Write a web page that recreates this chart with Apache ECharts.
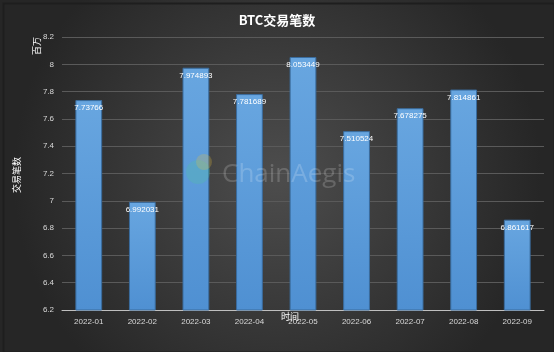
<!DOCTYPE html>
<html><head><meta charset="utf-8">
<script src="https://cdn.jsdelivr.net/npm/echarts@6/dist/echarts.min.js"></script>
<style>html,body{margin:0;padding:0;background:#333;}#c{width:554px;height:352px;}</style>
</head><body><div id="c"></div>
<script>
const categories = ['2022-01','2022-02','2022-03','2022-04','2022-05','2022-06','2022-07','2022-08','2022-09'];
const values = [7.73766, 6.992031, 7.974893, 7.781689, 8.053449, 7.510524, 7.678275, 7.814861, 6.861617];
const yTicks = [6.2, 6.4, 6.6, 6.8, 7, 7.2, 7.4, 7.6, 7.8, 8, 8.2];

const chart = echarts.init(document.getElementById('c'));
chart.setOption({
  backgroundColor: {
    type: 'radial', x: 0.5, y: 0.5, r: 0.75,
    colorStops: [{offset: 0, color: '#4d4d4d'}, {offset: 1, color: '#262626'}]
  },
  title: {
    text: 'BTC交易笔数', left: 'center', top: 9,
    textStyle: {color: '#ffffff', fontSize: 13, fontWeight: 'bold', fontFamily: 'Noto Sans CJK SC'}
  },
  graphic: [
    {type: 'rect', left: 1, top: 1, shape: {width: 551, height: 349}, style: {fill: 'none', stroke: '#1e1e1e', lineWidth: 2}, silent: true},
    {type: 'text', left: 222, top: 162, style: {text: 'ChainAegis', fill: 'rgba(255,255,255,0.18)', font: '26px "Open Sans"'}, z: 10, silent: true},
    {type: 'circle', left: 186, top: 160, shape: {r: 12}, style: {fill: 'rgba(80,200,150,0.25)'}, z: 10, silent: true},
    {type: 'circle', left: 196, top: 154, shape: {r: 8}, style: {fill: 'rgba(230,190,60,0.25)'}, z: 10, silent: true},
    {type: 'text', x: 17, y: 175, rotation: Math.PI / 2, style: {text: '交易笔数', fill: '#ffffff', font: '9px "Noto Sans CJK SC"', textAlign: 'center', textVerticalAlign: 'middle'}, silent: true},
    {type: 'text', x: 37, y: 46, rotation: Math.PI / 2, style: {text: '百万', fill: '#ffffff', font: '9px "Noto Sans CJK SC"', textAlign: 'center', textVerticalAlign: 'middle'}, silent: true},
    {type: 'text', x: 290, y: 317, z: 20, style: {text: '时间', fill: '#ffffff', font: '9px "Noto Sans CJK SC"', textAlign: 'center', textVerticalAlign: 'middle'}, silent: true}
  ],
  grid: {left: 62, right: 10, top: 37, bottom: 42},
  xAxis: {
    type: 'category', data: categories,
    axisLine: {lineStyle: {color: '#bfbfbf', width: 1}},
    axisTick: {show: false},
    axisLabel: {color: '#d9d9d9', fontSize: 8, margin: 8, fontFamily: 'Liberation Sans'}
  },
  yAxis: {
    type: 'value', min: 6.2, max: 8.2, interval: 0.2,
    axisLine: {show: false}, axisTick: {show: false},
    axisLabel: {color: '#d9d9d9', fontSize: 8, margin: 8, fontFamily: 'Liberation Sans',
      formatter: v => String(Math.round(v * 10) / 10)},
    splitLine: {lineStyle: {color: '#5a5a5a', width: 1}}
  },
  series: [{
    type: 'bar', data: values, barWidth: '50%',
    itemStyle: {
      color: {type: 'linear', x: 0, y: 0, x2: 0, y2: 1,
        colorStops: [{offset: 0, color: '#68a6e0'}, {offset: 1, color: '#4f90d2'}]},
      borderColor: '#3a6c9e', borderWidth: 1
    },
    label: {show: true, position: 'insideTop', distance: 4, color: '#ffffff', fontSize: 8, fontFamily: 'Liberation Sans',
      formatter: p => String(p.value)}
  }]
});
</script></body></html>
